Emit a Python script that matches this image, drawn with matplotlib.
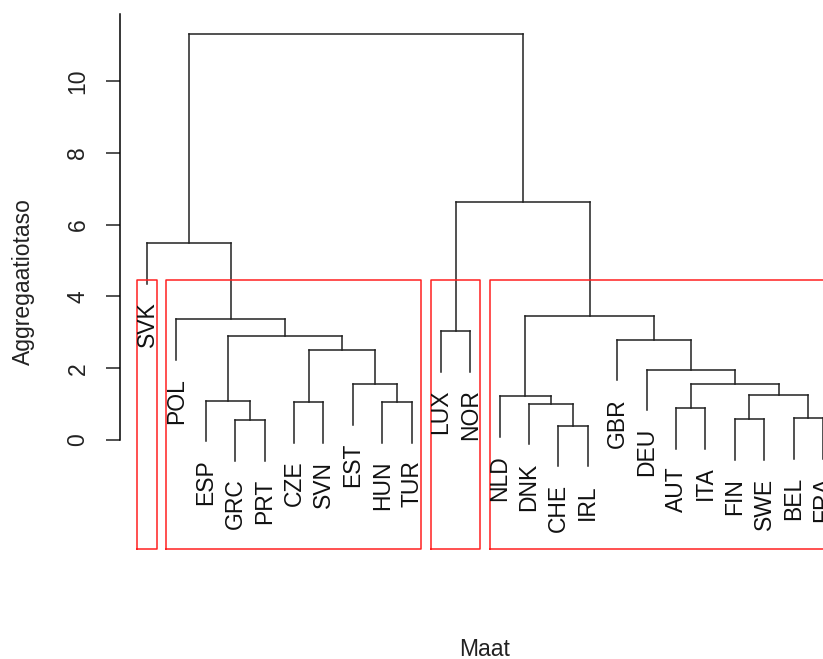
import matplotlib
matplotlib.use("Agg")
import matplotlib.pyplot as plt

plt.rcParams['font.family'] = ['Liberation Sans', 'DejaVu Sans']

# merges like R's hclust: a leaf name or the index of an earlier merge, then the height
merge_a = ['GRC', 'ESP', 'CZE', 'HUN', 'EST', 2, 1, 'POL', 'SVK', 'LUX',
	'CHE', 'DNK', 'NLD', 'AUT', 'FIN', 'BEL', 14, 13, 'DEU', 'GBR', 12, 9, 8]
merge_b = ['PRT', 0, 'SVN', 'TUR', 3, 4, 5, 6, 7, 'NOR',
	'IRL', 10, 11, 'ITA', 'SWE', 'FRA', 15, 16, 17, 18, 19, 20, 21]
heights = [0.56, 1.10, 1.06, 1.06, 1.55, 2.51, 2.91, 3.36, 5.49, 3.04,
	0.40, 1.01, 1.22, 0.89, 0.58, 0.61, 1.25, 1.56, 1.96, 2.79, 3.45, 6.62, 11.32]
k = 4

hang = 0.1 * max(heights)

# leaf order from the tree
order = []
def walk(node):
	if isinstance(node, str):
		order.append(node)
	else:
		walk(merge_a[node])
		walk(merge_b[node])
walk(len(heights) - 1)
n = len(order)

xpos = {}
def xof(node):
	if isinstance(node, str):
		return order.index(node) + 1
	if node not in xpos:
		xpos[node] = (xof(merge_a[node]) + xof(merge_b[node])) / 2
	return xpos[node]

fig = plt.figure(figsize=(8.23, 6.59), dpi=100)
ax = fig.add_axes([120/823, 110/659, 730/823, 535/659])
ax.set_xlim(0.08, 24.92)
ax.set_ylim(-3.036, 11.866)

lw = 1.1
for i, h in enumerate(heights):
	xa = xof(merge_a[i])
	xb = xof(merge_b[i])
	ax.plot([xa, xb], [h, h], color='#222222', lw=lw, clip_on=False)
	for c, xc in ((merge_a[i], xa), (merge_b[i], xb)):
		if isinstance(c, str):
			low = h - hang
			ax.plot([xc, xc], [h, low], color='#222222', lw=lw, clip_on=False)
			ax.text(xc, low - 0.5, c, rotation=90, ha='center', va='top',
				fontsize=16.5, color='#111111')
		else:
			ax.plot([xc, xc], [h, heights[c]], color='#222222', lw=lw, clip_on=False)

# rect.hclust: cut the tree into k groups
sorted_h = sorted(heights, reverse=True)
cut_top = (sorted_h[k - 2] + sorted_h[k - 1]) / 2
groups = []
def collect(node):
	if isinstance(node, str) or heights[node] < cut_top:
		groups.append(node)
	else:
		collect(merge_a[node])
		collect(merge_b[node])
collect(len(heights) - 1)

def leaves(node):
	if isinstance(node, str):
		return [node]
	return leaves(merge_a[node]) + leaves(merge_b[node])

for g in groups:
	idx = [order.index(l) + 1 for l in leaves(g)]
	left = min(idx) - 1 + 0.66
	right = max(idx) + 0.33
	ybot = ax.get_ylim()[0]
	ax.plot([left, right, right, left, left], [ybot, ybot, cut_top, cut_top, ybot],
		color='#ff2020', lw=lw, clip_on=False)

for s in ['top', 'right', 'bottom']:
	ax.spines[s].set_visible(False)
ax.spines['left'].set_bounds(0, 11.866)
ax.spines['left'].set_linewidth(lw)
ax.set_xticks([])
ax.set_yticks([0, 2, 4, 6, 8, 10])
ax.set_yticklabels(['0', '2', '4', '6', '8', '10'], rotation=90, va='center', fontsize=16.5)
ax.tick_params(axis='y', length=10, width=lw, pad=12, colors='#222222')

fig.text(23/823, 1 - 281.5/659, 'Aggregaatiotaso', rotation=90, ha='center', va='center', fontsize=16.5, color='#222222')
fig.text(485/823, 1 - 650/659, 'Maat', ha='center', va='center', fontsize=16.5, color='#222222')

fig.savefig('out.png', dpi=100)
